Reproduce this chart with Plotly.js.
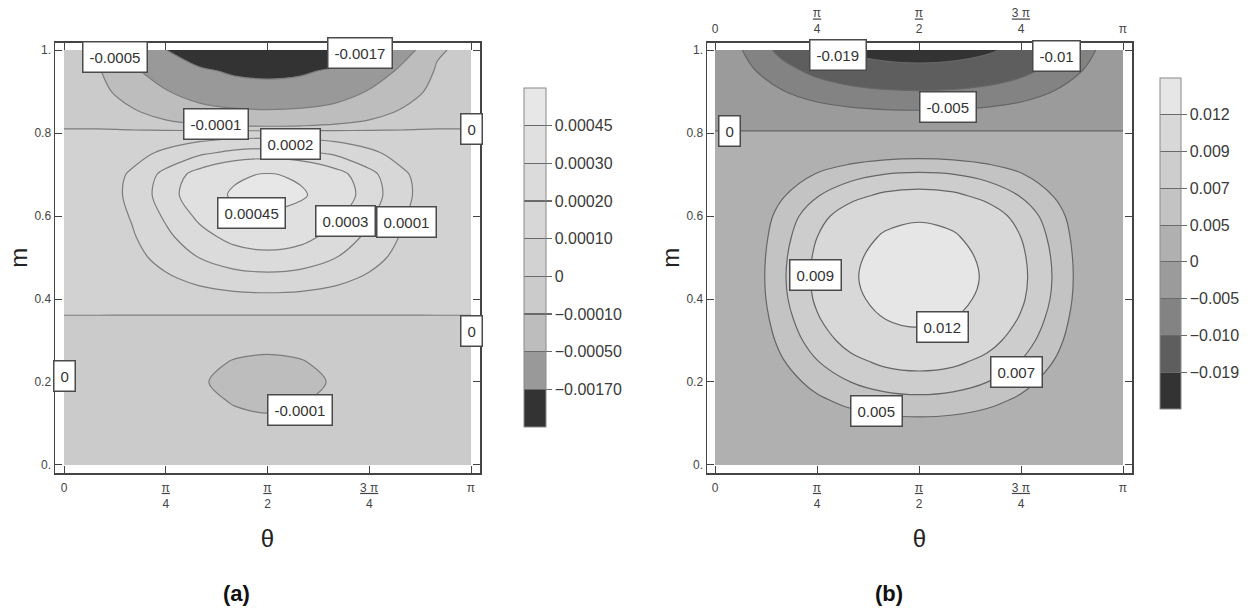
<!DOCTYPE html>
<html><head><meta charset="utf-8">
<script src="https://cdn.plot.ly/plotly-3.0.1.min.js"></script>
<style>html,body{margin:0;padding:0;background:#fff}#chart{width:1255px;height:613px}</style>
</head><body><div id="chart"></div>
<script>
// ---------- data ----------
const theta = [0, 0.2618, 0.5236, 0.7854, 1.0472, 1.309, 1.5708, 1.8326, 2.0944, 2.3562, 2.618, 2.8798, 3.1416];
const mVals = [0, 0.05, 0.10, 0.15, 0.20, 0.25, 0.30, 0.35, 0.40, 0.45, 0.50, 0.55, 0.60, 0.65, 0.70, 0.75, 0.80, 0.85, 0.90, 0.95, 1.00];

// panel (a): one row per m value, one column per theta value
const zA = [
  [-3.4e-7,-3.4e-6,-1.25e-5,-2.5e-5,-3.75e-5,-4.67e-5,-5.0e-5,-4.67e-5,-3.75e-5,-2.5e-5,-1.25e-5,-3.4e-6,-3.4e-7],
  [-4.7e-7,-4.7e-6,-1.75e-5,-3.5e-5,-5.25e-5,-6.53e-5,-7.0e-5,-6.53e-5,-5.25e-5,-3.5e-5,-1.75e-5,-4.7e-6,-4.7e-7],
  [-6.0e-7,-6.0e-6,-2.25e-5,-4.5e-5,-6.75e-5,-8.4e-5,-9.0e-5,-8.4e-5,-6.75e-5,-4.5e-5,-2.25e-5,-6.0e-6,-6.0e-7],
  [-7.4e-7,-7.4e-6,-2.75e-5,-5.5e-5,-8.25e-5,-1.026e-4,-1.1e-4,-1.026e-4,-8.25e-5,-5.5e-5,-2.75e-5,-7.4e-6,-7.4e-7],
  [-8.4e-7,-8.4e-6,-3.13e-5,-6.25e-5,-9.38e-5,-1.166e-4,-1.25e-4,-1.166e-4,-9.38e-5,-6.25e-5,-3.13e-5,-8.4e-6,-8.4e-7],
  [-7.4e-7,-7.4e-6,-2.75e-5,-5.5e-5,-8.25e-5,-1.026e-4,-1.1e-4,-1.026e-4,-8.25e-5,-5.5e-5,-2.75e-5,-7.4e-6,-7.4e-7],
  [-5.4e-7,-5.4e-6,-2.0e-5,-4.0e-5,-6.0e-5,-7.46e-5,-8.0e-5,-7.46e-5,-6.0e-5,-4.0e-5,-2.0e-5,-5.4e-6,-5.4e-7],
  [-1.3e-7,-1.3e-6,-5.0e-6,-1.0e-5,-1.5e-5,-1.87e-5,-2.0e-5,-1.87e-5,-1.5e-5,-1.0e-5,-5.0e-6,-1.3e-6,-1.3e-7],
  [4.7e-7,4.7e-6,1.75e-5,3.5e-5,5.25e-5,6.53e-5,7.0e-5,6.53e-5,5.25e-5,3.5e-5,1.75e-5,4.7e-6,4.7e-7],
  [1.14e-6,1.14e-5,4.25e-5,8.5e-5,1.275e-4,1.586e-4,1.7e-4,1.586e-4,1.275e-4,8.5e-5,4.25e-5,1.14e-5,1.14e-6],
  [1.81e-6,1.81e-5,6.75e-5,1.35e-4,2.025e-4,2.519e-4,2.7e-4,2.519e-4,2.025e-4,1.35e-4,6.75e-5,1.81e-5,1.81e-6],
  [2.38e-6,2.38e-5,8.88e-5,1.775e-4,2.663e-4,3.312e-4,3.55e-4,3.312e-4,2.663e-4,1.775e-4,8.88e-5,2.38e-5,2.38e-6],
  [2.88e-6,2.88e-5,1.075e-4,2.15e-4,3.225e-4,4.012e-4,4.3e-4,4.012e-4,3.225e-4,2.15e-4,1.075e-4,2.88e-5,2.88e-6],
  [3.35e-6,3.35e-5,1.25e-4,2.5e-4,3.75e-4,4.665e-4,5.0e-4,4.665e-4,3.75e-4,2.5e-4,1.25e-4,3.35e-5,3.35e-6],
  [3.08e-6,3.08e-5,1.15e-4,2.3e-4,3.45e-4,4.292e-4,4.6e-4,4.292e-4,3.45e-4,2.3e-4,1.15e-4,3.08e-5,3.08e-6],
  [1.68e-6,1.68e-5,6.25e-5,1.25e-4,1.875e-4,2.333e-4,2.5e-4,2.333e-4,1.875e-4,1.25e-4,6.25e-5,1.68e-5,1.68e-6],
  [3.4e-7,3.4e-6,1.25e-5,2.5e-5,3.75e-5,4.67e-5,5.0e-5,4.67e-5,3.75e-5,2.5e-5,1.25e-5,3.4e-6,3.4e-7],
  [-1.39e-6,-1.39e-5,-7.26e-5,-1.722e-4,-2.862e-4,-3.76e-4,-4.1e-4,-3.76e-4,-2.862e-4,-1.722e-4,-7.26e-5,-1.39e-5,-1.39e-6],
  [-3.74e-6,-3.74e-5,-1.947e-4,-4.62e-4,-7.68e-4,-1.009e-3,-1.1e-3,-1.009e-3,-7.68e-4,-4.62e-4,-1.947e-4,-3.74e-5,-3.74e-6],
  [-7.14e-6,-7.14e-5,-3.717e-4,-8.82e-4,-1.466e-3,-1.926e-3,-2.1e-3,-1.926e-3,-1.466e-3,-8.82e-4,-3.717e-4,-7.14e-5,-7.14e-6],
  [-1.36e-5,-1.36e-4,-7.08e-4,-1.68e-3,-2.792e-3,-3.668e-3,-4.0e-3,-3.668e-3,-2.792e-3,-1.68e-3,-7.08e-4,-1.36e-4,-1.36e-5]
];

// panel (b)
const zB = [
  [1.0e-5,1.04e-4,2.0e-4,2.83e-4,3.46e-4,3.86e-4,4.0e-4,3.86e-4,3.46e-4,2.83e-4,2.0e-4,1.04e-4,1.0e-5],
  [6.2e-5,6.21e-4,1.2e-3,1.697e-3,2.078e-3,2.318e-3,2.4e-3,2.318e-3,2.078e-3,1.697e-3,1.2e-3,6.21e-4,6.2e-5],
  [1.14e-4,1.139e-3,2.2e-3,3.111e-3,3.81e-3,4.25e-3,4.4e-3,4.25e-3,3.81e-3,3.111e-3,2.2e-3,1.139e-3,1.14e-4],
  [1.63e-4,1.63e-3,3.15e-3,4.455e-3,5.456e-3,6.085e-3,6.3e-3,6.085e-3,5.456e-3,4.455e-3,3.15e-3,1.63e-3,1.63e-4],
  [2.1e-4,2.096e-3,4.05e-3,5.728e-3,7.015e-3,7.824e-3,8.1e-3,7.824e-3,7.015e-3,5.728e-3,4.05e-3,2.096e-3,2.1e-4],
  [2.54e-4,2.536e-3,4.9e-3,6.93e-3,8.487e-3,9.466e-3,9.8e-3,9.466e-3,8.487e-3,6.93e-3,4.9e-3,2.536e-3,2.54e-4],
  [2.92e-4,2.924e-3,5.65e-3,7.99e-3,9.786e-3,1.0915e-2,1.13e-2,1.0915e-2,9.786e-3,7.99e-3,5.65e-3,2.924e-3,2.92e-4],
  [3.21e-4,3.209e-3,6.2e-3,8.768e-3,1.0738e-2,1.1977e-2,1.24e-2,1.1977e-2,1.0738e-2,8.768e-3,6.2e-3,3.209e-3,3.21e-4],
  [3.42e-4,3.416e-3,6.6e-3,9.334e-3,1.1431e-2,1.275e-2,1.32e-2,1.275e-2,1.1431e-2,9.334e-3,6.6e-3,3.416e-3,3.42e-4],
  [3.49e-4,3.494e-3,6.75e-3,9.546e-3,1.1691e-2,1.304e-2,1.35e-2,1.304e-2,1.1691e-2,9.546e-3,6.75e-3,3.494e-3,3.49e-4],
  [3.44e-4,3.442e-3,6.65e-3,9.404e-3,1.1518e-2,1.2846e-2,1.33e-2,1.2846e-2,1.1518e-2,9.404e-3,6.65e-3,3.442e-3,3.44e-4],
  [3.29e-4,3.287e-3,6.35e-3,8.98e-3,1.0998e-2,1.2267e-2,1.27e-2,1.2267e-2,1.0998e-2,8.98e-3,6.35e-3,3.287e-3,3.29e-4],
  [3.03e-4,3.028e-3,5.85e-3,8.273e-3,1.0132e-2,1.1301e-2,1.17e-2,1.1301e-2,1.0132e-2,8.273e-3,5.85e-3,3.028e-3,3.03e-4],
  [2.51e-4,2.51e-3,4.85e-3,6.859e-3,8.4e-3,9.369e-3,9.7e-3,9.369e-3,8.4e-3,6.859e-3,4.85e-3,2.51e-3,2.51e-4],
  [1.89e-4,1.889e-3,3.65e-3,5.162e-3,6.322e-3,7.051e-3,7.3e-3,7.051e-3,6.322e-3,5.162e-3,3.65e-3,1.889e-3,1.89e-4],
  [1.11e-4,1.113e-3,2.15e-3,3.041e-3,3.724e-3,4.153e-3,4.3e-3,4.153e-3,3.724e-3,3.041e-3,2.15e-3,1.113e-3,1.11e-4],
  [1.3e-5,1.29e-4,2.5e-4,3.54e-4,4.33e-4,4.83e-4,5.0e-4,4.83e-4,4.33e-4,3.54e-4,2.5e-4,1.29e-4,1.3e-5],
  [-1.17e-4,-1.165e-3,-2.25e-3,-3.182e-3,-3.897e-3,-4.347e-3,-4.5e-3,-4.347e-3,-3.897e-3,-3.182e-3,-2.25e-3,-1.165e-3,-1.17e-4],
  [-2.51e-4,-2.51e-3,-4.85e-3,-6.859e-3,-8.4e-3,-9.369e-3,-9.7e-3,-9.369e-3,-8.4e-3,-6.859e-3,-4.85e-3,-2.51e-3,-2.51e-4],
  [-4.22e-4,-4.218e-3,-8.15e-3,-1.1526e-2,-1.4116e-2,-1.5744e-2,-1.63e-2,-1.5744e-2,-1.4116e-2,-1.1526e-2,-8.15e-3,-4.218e-3,-4.22e-4],
  [-6.08e-4,-6.082e-3,-1.175e-2,-1.6617e-2,-2.0351e-2,-2.2699e-2,-2.35e-2,-2.2699e-2,-2.0351e-2,-1.6617e-2,-1.175e-2,-6.082e-3,-6.08e-4]
];

// contour levels (non-uniform, as in the legends)
const levelsA = [-0.0017, -0.0005, -0.0001, 0, 0.0001, 0.0002, 0.0003, 0.00045];
const levelsB = [-0.019, -0.01, -0.005, 0, 0.005, 0.007, 0.009, 0.012];
const legendTextA = ['\u22120.00170', '\u22120.00050', '\u22120.00010', '0', '0.00010', '0.00020', '0.00030', '0.00045'];
const legendTextB = ['\u22120.019', '\u22120.010', '\u22120.005', '0', '0.005', '0.007', '0.009', '0.012'];

// band shades, lowest band first
const shadesA = ['#333333', '#999999', '#bdbdbd', '#cbcbcb', '#d2d2d2', '#d7d7d7', '#dbdbdb', '#e0e0e0', '#e7e7e7'];
const shadesB = ['#333333', '#5e5e5e', '#838383', '#9b9b9b', '#b0b0b0', '#c3c3c3', '#cdcdcd', '#d8d8d8', '#e6e6e6'];

// axis ticks
const thetaTickVals = [0, Math.PI / 4, Math.PI / 2, 3 * Math.PI / 4, Math.PI];
const thetaTickText = ['0', '<u>\u03c0</u><br>4', '<u>\u03c0</u><br>2', '<u>3 \u03c0</u><br>4', '\u03c0'];
const mTickVals = [0, 0.2, 0.4, 0.6, 0.8, 1];
const mTickText = ['0.', '0.2', '0.4', '0.6', '0.8', '1.'];

// contour labels: text, theta, m
const labelsA = [
  ['-0.0005', 0.394, 0.983], ['-0.0017', 2.285, 0.993], ['-0.0001', 1.173, 0.822],
  ['0.0002', 1.752, 0.773], ['0.00045', 1.451, 0.607], ['0.0003', 2.169, 0.588],
  ['0.0001', 2.640, 0.586], ['0', 3.1416, 0.81], ['0', 3.1416, 0.323],
  ['0', 0.0, 0.214], ['-0.0001', 1.822, 0.133]
];
const labelsB = [
  ['-0.019', 0.947, 0.988], ['-0.01', 2.633, 0.986], ['-0.005', 1.794, 0.863],
  ['0', 0.108, 0.805], ['0.009', 0.770, 0.458], ['0.012', 1.755, 0.333],
  ['0.007', 2.318, 0.224], ['0.005', 1.240, 0.130]
];

// ---------- helpers ----------
const FONT = 'Liberation Sans, Arial, sans-serif';
const W = 1255, H = 613;
const CLEAR = 'rgba(0,0,0,0)';

// one filled band per level: region above the level painted with its shade
function levelTrace(z, level, below, above, xa, ya, lineColor) {
  return {
    type: 'contour', x: theta, y: mVals, z: z, xaxis: xa, yaxis: ya,
    hoverinfo: 'skip', showscale: false, autocontour: false,
    contours: { start: level, end: level, size: 1, coloring: 'fill', showlines: true },
    colorscale: [[0, below], [1, above]],
    line: { color: lineColor, width: 1.2, smoothing: 1 }
  };
}
function panelTraces(z, lv, shades, xa, ya, lineColor) {
  return lv.map((L, k) => levelTrace(z, L, k === 0 ? shades[0] : CLEAR, shades[k + 1], xa, ya, lineColor));
}
// rank of a value on the level ladder (level k -> k+1), used only for the legend bar
function levelIndex(z, lv) {
  const n = lv.length;
  if (z <= lv[0]) return 1 + (z - lv[0]) / (lv[1] - lv[0]);
  for (let i = 0; i < n - 1; i++) {
    if (z <= lv[i + 1]) return (i + 1) + (z - lv[i]) / (lv[i + 1] - lv[i]);
  }
  return n + (z - lv[n - 1]) / (lv[n - 1] - lv[n - 2]);
}
function bandScale(shades) {
  const n = shades.length, out = [];
  shades.forEach((c, i) => { out.push([i / n, c]); out.push([(i + 1) / n, c]); });
  return out;
}
// two stacked legend bars: shaded bar with separator lines, then a clear bar carrying ticks + labels
function legendTraces(z, lv, shades, legendText, pos) {
  const base = {
    type: 'heatmap', x: theta, y: mVals, z: z.map(r => r.map(v => levelIndex(v, lv))),
    xaxis: 'x4', yaxis: 'y4', hoverinfo: 'skip', zmin: 0, zmax: lv.length + 1
  };
  const cbBase = {
    xref: 'paper', yref: 'paper', xanchor: 'left', yanchor: 'bottom',
    lenmode: 'fraction', thicknessmode: 'pixels', xpad: 0, ypad: 0,
    x: pos.x, y: pos.y, len: pos.len, thickness: pos.thickness,
    tickmode: 'array', tickvals: lv.map((_, i) => i + 1), ticktext: legendText
  };
  return [
    Object.assign({}, base, {
      colorscale: bandScale(shades),
      colorbar: Object.assign({}, cbBase, {
        ticks: 'inside', ticklen: pos.thickness, tickcolor: '#6a6a6a', tickwidth: 1.2,
        showticklabels: false, outlinewidth: 1, outlinecolor: '#8a8a8a'
      })
    }),
    Object.assign({}, base, {
      colorscale: [[0, CLEAR], [1, CLEAR]],
      colorbar: Object.assign({}, cbBase, {
        ticks: 'outside', ticklen: 6, tickcolor: '#6a6a6a', tickwidth: 1.2,
        tickfont: { family: FONT, size: 16, color: '#3a3a3a' }, outlinewidth: 0
      })
    })
  ];
}

const traces = [].concat(
  panelTraces(zA, levelsA, shadesA, 'x', 'y', '#7d7d7d'),
  panelTraces(zB, levelsB, shadesB, 'x2', 'y2', '#666666'),
  legendTraces(zA, levelsA, shadesA, legendTextA,
    { x: 524 / W, y: (H - 427) / H, len: 339 / H, thickness: 22 }),
  legendTraces(zB, levelsB, shadesB, legendTextB,
    { x: 1160 / W, y: (H - 409) / H, len: 331 / H, thickness: 21 }),
  [{ type: 'scatter', x: [], y: [], xaxis: 'x3', yaxis: 'y2', showlegend: false, hoverinfo: 'skip' }]
);

const yDom = [(H - 473) / H, (H - 42.5) / H];
const frame = {
  showline: true, linecolor: '#444', linewidth: 1.5, mirror: 'ticks',
  ticks: 'inside', ticklen: 7, tickwidth: 1, tickcolor: '#444',
  showgrid: false, zeroline: false, fixedrange: true
};
const xCommon = Object.assign({}, frame, {
  tickmode: 'array', tickvals: thetaTickVals, ticktext: thetaTickText, ticklabelstandoff: 3,
  tickfont: { family: FONT, size: 12, color: '#444' },
  title: { text: '\u03b8', font: { family: FONT, size: 24, color: '#222' }, standoff: 20 }
});
const yCommon = Object.assign({}, frame, {
  domain: yDom, range: [-0.0193, 1.0181],
  tickmode: 'array', tickvals: mTickVals, ticktext: mTickText,
  tickfont: { family: FONT, size: 12, color: '#444' },
  title: { text: 'm', font: { family: FONT, size: 24, color: '#222' }, standoff: 0 }
});

function boxLabels(list, xr, yr) {
  return list.map(l => ({
    text: l[0], x: l[1], y: l[2], xref: xr, yref: yr, showarrow: false,
    xanchor: 'center', yanchor: 'middle',
    bgcolor: '#ffffff', bordercolor: '#4a4a4a', borderwidth: 1.5, borderpad: 6,
    font: { family: FONT, size: 15, color: '#333' }
  }));
}

const layout = {
  width: W, height: H, margin: { l: 0, r: 0, t: 0, b: 0 },
  paper_bgcolor: '#fff', plot_bgcolor: '#fff', showlegend: false,
  xaxis: Object.assign({}, xCommon, { domain: [55 / W, 480 / W], range: [-0.0695, 3.2111], anchor: 'y' }),
  yaxis: Object.assign({}, yCommon, { anchor: 'x' }),
  xaxis2: Object.assign({}, xCommon, { domain: [707 / W, 1132 / W], range: [-0.0616, 3.2109], anchor: 'y2' }),
  yaxis2: Object.assign({}, yCommon, { anchor: 'x2' }),
  xaxis3: {
    overlaying: 'x2', side: 'top', anchor: 'y2', range: [-0.0616, 3.2109],
    tickmode: 'array', tickvals: thetaTickVals, ticktext: thetaTickText, ticklabelstandoff: 6,
    ticks: 'inside', ticklen: 7, tickcolor: '#444', showline: false,
    showgrid: false, zeroline: false, fixedrange: true,
    tickfont: { family: FONT, size: 12, color: '#444' }
  },
  // axes that only host the legend bars (their content lies outside the visible range)
  xaxis4: { domain: [0, 0.01], range: [100, 101], visible: false, anchor: 'y4', fixedrange: true },
  yaxis4: { domain: [0, 0.01], range: [100, 101], visible: false, anchor: 'x4', fixedrange: true },
  annotations: boxLabels(labelsA, 'x', 'y').concat(boxLabels(labelsB, 'x2', 'y2')).concat([
    { text: '<b>(a)</b>', x: 237 / W, y: (H - 593) / H, xref: 'paper', yref: 'paper', showarrow: false,
      xanchor: 'center', yanchor: 'middle', font: { family: FONT, size: 22, color: '#111' } },
    { text: '<b>(b)</b>', x: 889 / W, y: (H - 593) / H, xref: 'paper', yref: 'paper', showarrow: false,
      xanchor: 'center', yanchor: 'middle', font: { family: FONT, size: 22, color: '#111' } }
  ])
};

Plotly.newPlot('chart', traces, layout, { displayModeBar: false, staticPlot: true });
</script></body></html>
